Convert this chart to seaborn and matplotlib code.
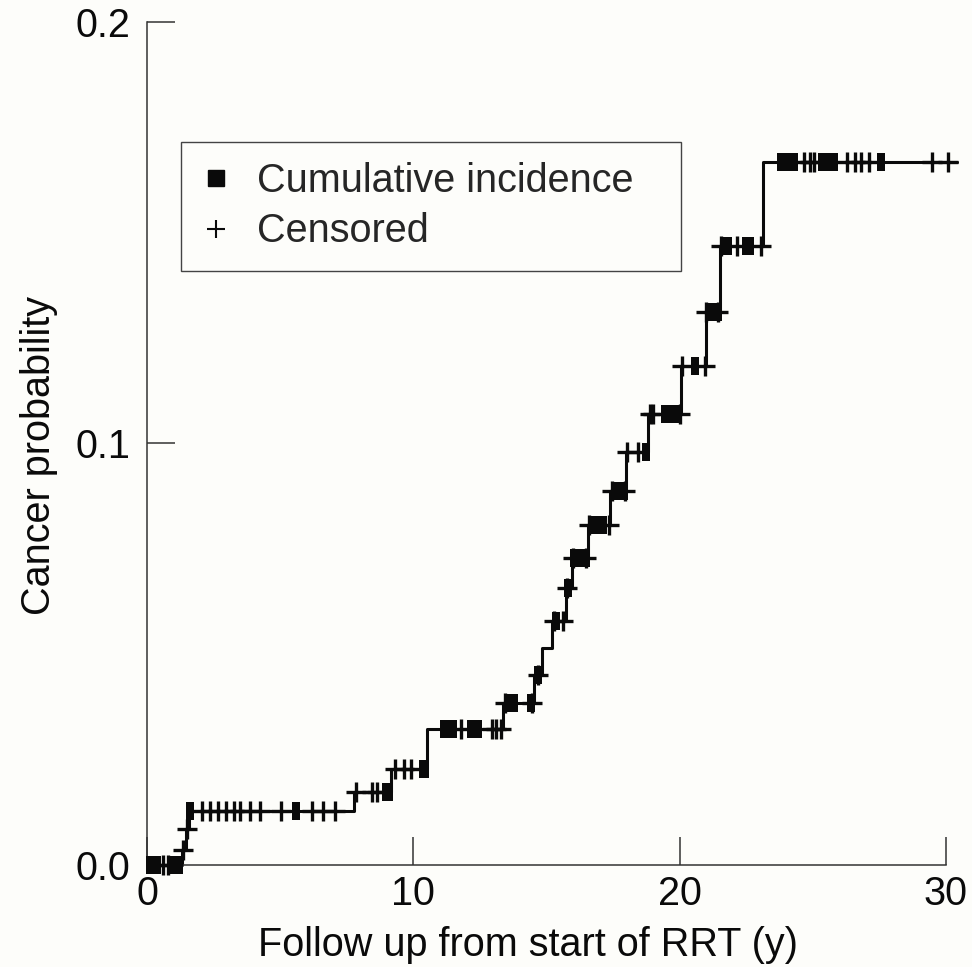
import numpy as np
import pandas as pd
import matplotlib
matplotlib.use("Agg")
import matplotlib.pyplot as plt
from matplotlib.lines import Line2D
import seaborn as sns

# Cumulative incidence step function (time in years, probability)
step_time = [0.0, 1.30, 1.45, 1.57, 7.78, 9.15, 10.53, 13.37, 14.55, 14.85,
             15.20, 15.72, 15.97, 16.55, 17.40, 18.00, 18.80, 20.07, 20.98,
             21.50, 23.12]
step_level = [0.0, 0.0035, 0.0085, 0.0127, 0.0173, 0.0228, 0.0323, 0.0384,
              0.0451, 0.0515, 0.0580, 0.0657, 0.0728, 0.0807, 0.0887, 0.0980,
              0.1070, 0.1184, 0.1312, 0.1469, 0.1668]
follow_up_end = 30.4

# Times of cancer events (filled marks) and censored observations (+)
event_time = [0.12, 0.24, 0.36, 0.94, 1.06, 1.20, 1.60, 5.60, 8.97, 9.08,
              10.36, 10.43, 11.14, 11.33, 11.48, 12.16, 12.31, 12.42, 13.58,
              13.77, 14.41, 14.67, 15.35, 15.80, 16.02, 16.25, 16.47, 16.70,
              16.92, 17.11, 17.56, 17.75, 17.90, 18.72, 19.44, 19.66, 19.92,
              20.56, 21.13, 21.43, 21.65, 21.80, 22.51, 22.66, 23.79, 24.01,
              24.28, 25.33, 25.55, 25.78, 27.58]
censor_time = [0.60, 0.78, 1.37, 1.50, 2.05, 2.35, 2.65, 2.95, 3.25, 3.50,
               3.85, 4.25, 5.05, 6.20, 6.60, 7.05, 7.85, 8.45, 8.65, 9.30,
               9.65, 9.90, 11.80, 12.95, 13.10, 13.30, 13.45, 14.45, 14.70,
               15.30, 15.62, 15.78, 16.00, 16.50, 16.60, 17.35, 17.45, 17.95,
               18.02, 18.45, 18.87, 19.00, 20.00, 20.10, 20.94, 21.00, 21.45,
               21.55, 22.14, 23.05, 24.69, 24.88, 25.03, 26.30, 26.57, 26.83,
               27.13, 29.49, 30.06]

x_ticks = [0, 10, 20, 30]
y_ticks = [0.0, 0.1, 0.2]
y_tick_labels = ["0.0", "0.1", "0.2"]
legend_labels = ["Cumulative incidence", "Censored"]


def level_at(times):
    idx = np.searchsorted(step_time, times, side="right") - 1
    return np.asarray(step_level)[idx]


sns.set_theme(style="ticks")
plt.rcParams["font.family"] = ["Liberation Sans", "DejaVu Sans"]

bg = "#fdfdfa"
ink = "#0a0a0a"
axis_col = "#333333"
fs = 28.5

fig = plt.figure(figsize=(9.72, 9.67), dpi=100, facecolor=bg)
ax = fig.add_axes([147 / 972, 102 / 967, 825 / 972, 843 / 967])
ax.set_facecolor(bg)

curve = pd.DataFrame({
    "time": step_time + [follow_up_end],
    "prob": step_level + [step_level[-1]],
})
sns.lineplot(data=curve, x="time", y="prob", drawstyle="steps-post",
             estimator=None, sort=False, color=ink, linewidth=2.2,
             clip_on=False, ax=ax)

events = pd.DataFrame({"time": event_time, "prob": level_at(event_time)})
censored = pd.DataFrame({"time": censor_time, "prob": level_at(censor_time)})

# narrow upright block used for the event marks
block = [(-0.22, -0.5), (0.22, -0.5), (0.22, 0.5), (-0.22, 0.5), (-0.22, -0.5)]
sns.scatterplot(data=events, x="time", y="prob", marker=block, s=160,
                color=ink, edgecolor=ink, linewidth=0, clip_on=False,
                zorder=4, ax=ax)
sns.scatterplot(data=censored, x="time", y="prob", marker="+", s=200,
                color=ink, edgecolor=ink, linewidth=2.4, clip_on=False,
                zorder=5, ax=ax)

ax.set_xlim(0, 30.98)
ax.set_ylim(0, 0.2)
ax.set_xticks(x_ticks)
ax.set_yticks(y_ticks, y_tick_labels)
sns.despine(ax=ax)
for side in ("left", "bottom"):
    ax.spines[side].set_color(axis_col)
    ax.spines[side].set_linewidth(1.1)
ax.spines["bottom"].set_bounds(0, 30)
ax.tick_params(axis="both", direction="in", length=20, width=1.1,
               color=axis_col, labelsize=fs, labelcolor=ink)
ax.tick_params(axis="x", pad=7)
ax.tick_params(axis="y", pad=12)

ax.set_xlabel("Follow up from start of RRT (y)", fontsize=fs, color=ink)
ax.set_ylabel("Cancer probability", fontsize=fs, color=ink)
ax.xaxis.set_label_coords(0.462, -0.072)
ax.yaxis.set_label_coords(-0.108, 0.486)

handles = [
    Line2D([], [], marker="s", linestyle="", color=ink, markersize=11),
    Line2D([], [], marker="+", linestyle="", color=ink, markersize=13,
           markeredgewidth=1.5),
]
leg = ax.legend(handles, legend_labels, loc="upper left",
                bbox_to_anchor=(0.0412, 0.7077, 0.606, 0.15), mode="expand",
                borderaxespad=0, fontsize=fs, frameon=True, fancybox=False,
                borderpad=0.51, labelspacing=0.31, handlelength=0.73,
                handletextpad=0.67)
frame = leg.get_frame()
frame.set_edgecolor("#444444")
frame.set_linewidth(1.0)
frame.set_facecolor(bg)
frame.set_alpha(1)

fig.savefig("out.png", dpi=100, facecolor=bg)
